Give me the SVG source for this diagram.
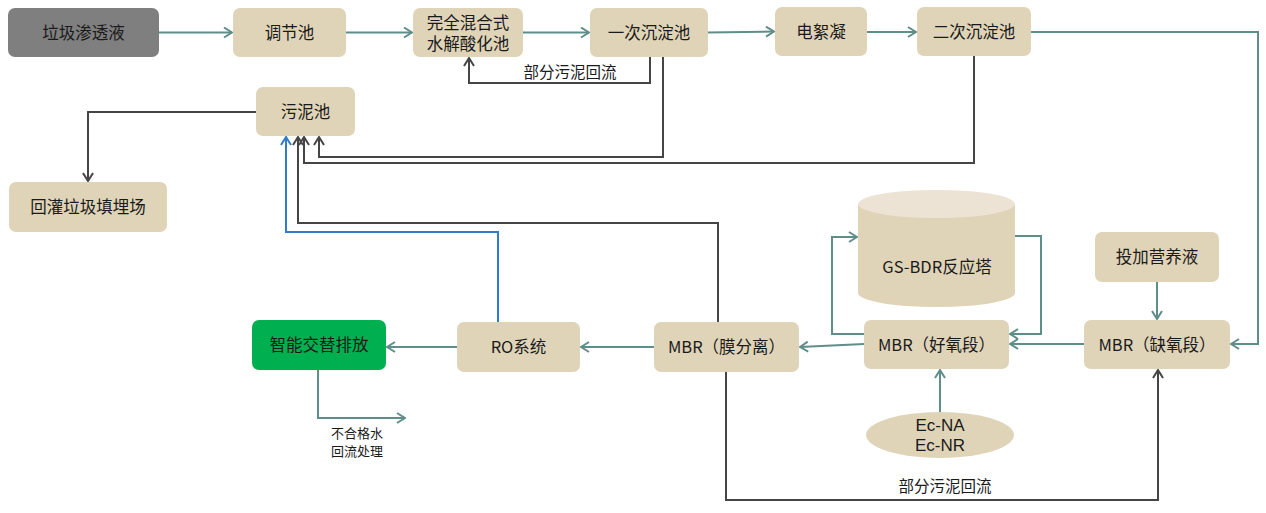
<svg xmlns="http://www.w3.org/2000/svg" width="1266" height="513" viewBox="0 0 1266 513">
<defs>
<style>
.node{fill:#e0d4b8;}
.t{font-family:"Noto Sans CJK SC","Microsoft YaHei",sans-serif;font-size:16.5px;fill:#1a1a1a;text-anchor:middle;}
.t2{font-family:"Liberation Sans","Noto Sans CJK SC",sans-serif;font-size:16.5px;fill:#1a1a1a;text-anchor:middle;}
.lbl{font-family:"Noto Sans CJK SC",sans-serif;font-size:15.5px;fill:#1a1a1a;text-anchor:middle;}
.sm{font-family:"Noto Sans CJK SC",sans-serif;font-size:13px;fill:#1a1a1a;text-anchor:middle;}
.lat{font-family:"Liberation Sans","Noto Sans",sans-serif;font-size:17px;fill:#1a1a1a;text-anchor:middle;}
.teal{fill:none;stroke:#5f8d8a;stroke-width:2;marker-end:url(#mt);}
.dark{fill:none;stroke:#454545;stroke-width:2;marker-end:url(#md);}
.blue{fill:none;stroke:#2f7ccc;stroke-width:2;marker-end:url(#mb);}
</style>
<marker id="mt" viewBox="0 0 10 12" refX="9" refY="6" markerWidth="10" markerHeight="12" markerUnits="userSpaceOnUse" orient="auto"><path d="M1,1 L9,6 L1,11" fill="none" stroke="#5f8d8a" stroke-width="2"/></marker>
<marker id="md" viewBox="0 0 10 12" refX="9" refY="6" markerWidth="10" markerHeight="12" markerUnits="userSpaceOnUse" orient="auto"><path d="M1,1 L9,6 L1,11" fill="none" stroke="#454545" stroke-width="2"/></marker>
<marker id="mb" viewBox="0 0 10 12" refX="9" refY="6" markerWidth="10" markerHeight="12" markerUnits="userSpaceOnUse" orient="auto"><path d="M1,1 L9,6 L1,11" fill="none" stroke="#2f7ccc" stroke-width="2"/></marker>
</defs>
<rect width="1266" height="513" fill="#ffffff"/>

<g id="connectors">
<path class="teal" d="M159,32.5 H232"/>
<path class="teal" d="M346,32.5 H412"/>
<path class="teal" d="M523,32.5 H589"/>
<path class="teal" d="M708,32.5 L774,31.5"/>
<path class="teal" d="M867,32 H916"/>
<path class="teal" d="M1031,32 H1258 V344 H1231"/>
<path class="dark" d="M650,57 V83 H469 V58"/>
<path class="dark" d="M663,57 V157 H319 V137"/>
<path class="dark" d="M974,56 V163 H304 V137"/>
<path class="dark" d="M718,322 V223 H298 V137"/>
<path class="blue" d="M498,322 V232 H286 V137"/>
<path class="dark" d="M256,112 H88 V181"/>
<path class="teal" d="M1157,282 V319"/>
<path class="teal" d="M1084,344 H1010"/>
<path class="teal" d="M864,344 L800,347"/>
<path class="teal" d="M864,334 H832 V237 H857"/>
<path class="teal" d="M1015,236 H1041 V334 H1010"/>
<path class="teal" d="M940,412 V370"/>
<path class="teal" d="M654,347 H581"/>
<path class="teal" d="M457,347 H387"/>
<path class="teal" d="M318,370 V418 H405"/>
<path class="dark" d="M726,372 V500 H1158 V370"/>
<text class="lbl" x="570" y="78">部分污泥回流</text>
<text class="lbl" x="945" y="492">部分污泥回流</text>
<text class="sm" x="357" y="438">不合格水<tspan x="357" y="456">回流处理</tspan></text>
</g>

<g id="n-leachate"><rect x="8" y="8" width="151" height="49" rx="7" fill="#7f7f7f"/><text class="t" x="83.5" y="38.5">垃圾渗透液</text></g>
<g id="n-tiaojie"><rect class="node" x="233" y="8" width="113" height="49" rx="7"/><text class="t" x="289.5" y="38.5">调节池</text></g>
<g id="n-hydrolysis"><rect class="node" x="413" y="8" width="110" height="49" rx="7"/><text class="t2" x="468" y="28.5">完全混合式<tspan x="468" y="49.5">水解酸化池</tspan></text></g>
<g id="n-sed1"><rect class="node" x="590" y="8" width="118" height="49" rx="7"/><text class="t" x="649" y="38.5">一次沉淀池</text></g>
<g id="n-electro"><rect class="node" x="775" y="7" width="92" height="49" rx="7"/><text class="t" x="821" y="37.5">电絮凝</text></g>
<g id="n-sed2"><rect class="node" x="917" y="7" width="114" height="49" rx="7"/><text class="t" x="974" y="37.5">二次沉淀池</text></g>
<g id="n-sludge"><rect class="node" x="256" y="87" width="99" height="49" rx="7"/><text class="t" x="305.5" y="117.5">污泥池</text></g>
<g id="n-landfill"><rect class="node" x="9" y="182" width="158" height="50" rx="7"/><text class="t" x="88" y="213">回灌垃圾填埋场</text></g>
<g id="n-gsbdr"><path d="M858,204 V293 A78.5,14 0 0 0 1015,293 V204 Z" fill="#e0d4b8"/><ellipse cx="936.5" cy="204" rx="78.5" ry="14" fill="#ece3d4"/><text class="t" x="937" y="273">GS-BDR反应塔</text></g>
<g id="n-nutrient"><rect class="node" x="1095" y="232" width="124" height="50" rx="7"/><text class="t" x="1157" y="263">投加营养液</text></g>
<g id="n-aerobic"><rect class="node" x="864" y="320" width="145" height="49" rx="7"/><text class="t" x="936.5" y="350.5">MBR（好氧段）</text></g>
<g id="n-anoxic"><rect class="node" x="1084" y="320" width="146" height="49" rx="7"/><text class="t" x="1157" y="350.5">MBR（缺氧段）</text></g>
<g id="n-membrane"><rect class="node" x="654" y="322" width="145" height="50" rx="7"/><text class="t" x="726.5" y="353">MBR（膜分离）</text></g>
<g id="n-ro"><rect class="node" x="457" y="322" width="123" height="50" rx="7"/><text class="t" x="518.5" y="353">RO系统</text></g>
<g id="n-discharge"><rect x="252" y="320" width="134" height="50" rx="7" fill="#00b050"/><text class="t" x="319" y="351">智能交替排放</text></g>
<g id="n-ec"><ellipse cx="940" cy="435" rx="74" ry="23" fill="#e0d4b8"/><text class="lat" x="940" y="431">Ec-NA<tspan x="940" y="451">Ec-NR</tspan></text></g>
</svg>
